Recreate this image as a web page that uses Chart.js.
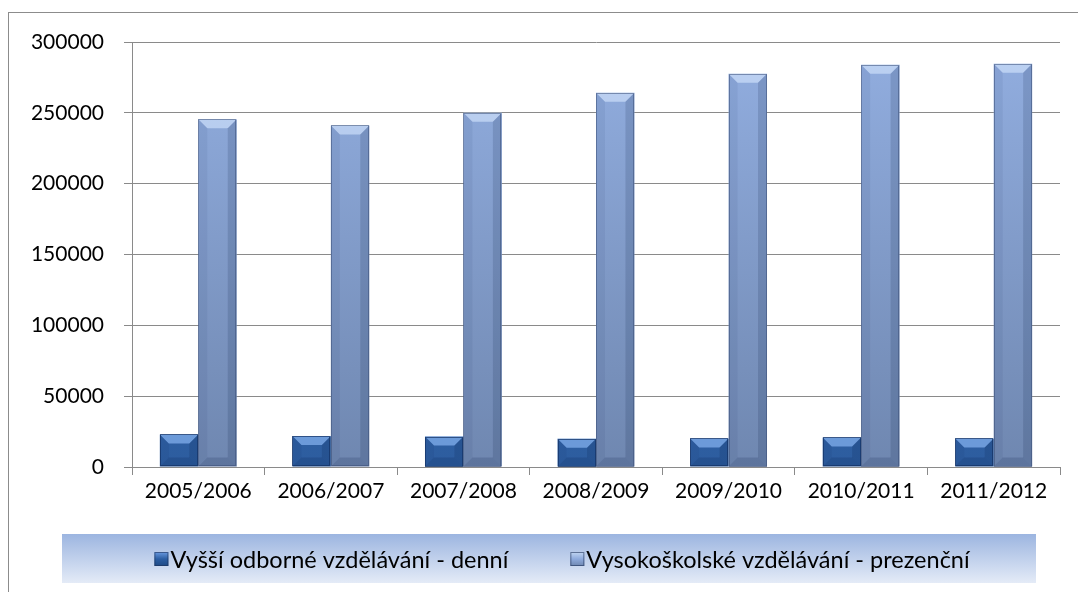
<!DOCTYPE html>
<html>
<head>
<meta charset="utf-8">
<script src="https://cdn.jsdelivr.net/npm/chart.js@4"></script>
<style>
  html, body { margin: 0; padding: 0; background: #fff; overflow: hidden; }
  #frame { position: absolute; left: 8px; top: 12px; width: 1100px; height: 620px; border: 1px solid #8c8c8c; box-sizing: border-box; }
  #c { position: absolute; left: 0; top: 0; }
</style>
</head>
<body>
<div id="frame"></div>
<canvas id="c" width="1078" height="592"></canvas>
<script>
// ---- data ----
const categories = ['2005/2006', '2006/2007', '2007/2008', '2008/2009', '2009/2010', '2010/2011', '2011/2012'];
const seriesNames = ['Vyšší odborné vzdělávání - denní', 'Vysokoškolské vzdělávání - prezenční'];
const vosDenni = [23000, 21800, 21500, 19900, 20200, 20900, 20200];
const vsPrezencni = [245400, 241100, 250100, 264200, 277600, 283900, 284600];
const yTicks = [0, 50000, 100000, 150000, 200000, 250000, 300000];

const FONT = 'Lato, "Open Sans", sans-serif';
const GRID = '#8a8a8a';

function vGrad(ctx, fallback, top, bottom) {
  const a = ctx.chart.chartArea;
  if (!a) return fallback;
  const g = ctx.chart.ctx.createLinearGradient(0, a.top, 0, a.bottom);
  g.addColorStop(0, top);
  g.addColorStop(1, bottom);
  return g;
}

const bevelPlugin = {
  id: 'bevel',
  afterDatasetsDraw(chart) {
    const c = chart.ctx;
    chart.data.datasets.forEach((ds, di) => {
      const meta = chart.getDatasetMeta(di);
      meta.data.forEach(el => {
        const l = el.x - el.width / 2, r = el.x + el.width / 2;
        const t = Math.min(el.y, el.base), bt = Math.max(el.y, el.base);
        const b = Math.min(9, (bt - t) / 2, el.width / 4);
        c.save();
        c.beginPath();
        c.moveTo(l, t); c.lineTo(r, t); c.lineTo(r - b, t + b); c.lineTo(l + b, t + b); c.closePath();
        c.fillStyle = di === 0 ? 'rgba(150,195,255,0.6)' : 'rgba(215,232,255,0.6)';
        c.fill();
        c.beginPath();
        c.moveTo(l, t); c.lineTo(l + b, t + b); c.lineTo(l + b, bt - b); c.lineTo(l, bt); c.closePath();
        c.fillStyle = 'rgba(0,20,60,0.06)';
        c.fill();
        c.beginPath();
        c.moveTo(r, t); c.lineTo(r - b, t + b); c.lineTo(r - b, bt - b); c.lineTo(r, bt); c.closePath();
        c.fillStyle = 'rgba(0,20,60,0.14)';
        c.fill();
        c.beginPath();
        c.moveTo(l, bt); c.lineTo(r, bt); c.lineTo(r - b, bt - b); c.lineTo(l + b, bt - b); c.closePath();
        c.fillStyle = 'rgba(0,20,60,0.16)';
        c.fill();
        c.strokeStyle = di === 0 ? 'rgba(20,50,100,0.7)' : 'rgba(60,80,120,0.55)';
        c.lineWidth = 1;
        c.strokeRect(Math.round(l) + 0.5, Math.round(t) + 0.5, Math.round(r - l) - 1, Math.round(bt - t) - 1);
        c.restore();
      });
    });
  }
};

const legendPlugin = {
  id: 'excelLegend',
  afterDraw(chart) {
    const c = chart.ctx;
    const bx = 62, by = 534, bw = 974, bh = 49;
    c.save();
    const g = c.createLinearGradient(0, by, 0, by + bh);
    g.addColorStop(0, '#9cb5e0');
    g.addColorStop(1, '#e4ebf7');
    c.fillStyle = g;
    c.fillRect(bx, by, bw, bh);

    const fs = 23.5;
    c.font = fs + 'px ' + FONT;
    const box = 14, tgap = 2, gap = 62;
    const widths = seriesNames.map(n => box + tgap + c.measureText(n).width);
    const total = widths[0] + gap + widths[1];
    let x = 562 - total / 2;
    const cy = 559;
    const markerCols = [['#6a9ae0', '#2c5ea3', '#1f4a85'], ['#c2d6f2', '#8eaadc', '#6f87b0']];
    seriesNames.forEach((n, i) => {
      const mg = c.createLinearGradient(0, cy - box / 2, 0, cy + box / 2);
      mg.addColorStop(0, markerCols[i][0]);
      mg.addColorStop(0.5, markerCols[i][1]);
      mg.addColorStop(1, markerCols[i][2]);
      c.fillStyle = mg;
      c.fillRect(x, cy - box / 2, box, box);
      c.strokeStyle = 'rgba(30,50,90,0.6)';
      c.lineWidth = 1;
      c.strokeRect(x + 0.5, cy - box / 2 + 0.5, box - 1, box - 1);
      c.fillStyle = '#000';
      c.textBaseline = 'middle';
      c.textAlign = 'left';
      c.fillText(n, x + box + tgap, cy + 1);
      x += widths[i] + gap;
    });
    c.restore();
  }
};

new Chart(document.getElementById('c'), {
  type: 'bar',
  data: {
    labels: categories,
    datasets: [
      {
        label: seriesNames[0],
        data: vosDenni,
        backgroundColor: ctx => vGrad(ctx, '#3468b0', '#3a70bb', '#2d5d9f'),
        borderWidth: 0
      },
      {
        label: seriesNames[1],
        data: vsPrezencni,
        backgroundColor: ctx => vGrad(ctx, '#8aa6d6', '#92aee0', '#6f87b0'),
        borderWidth: 0
      }
    ]
  },
  options: {
    responsive: false,
    devicePixelRatio: 1,
    animation: false,
    categoryPercentage: 0.58,
    barPercentage: 1.0,
    layout: { padding: { top: 42, right: 18, left: 0, bottom: 0 } },
    plugins: {
      legend: { display: false },
      tooltip: { enabled: false },
      title: { display: false }
    },
    scales: {
      x: {
        grid: { offset: true, drawOnChartArea: false, drawTicks: true, tickLength: 8, color: GRID, lineWidth: 1 },
        border: { display: true, color: GRID, width: 1 },
        ticks: { font: { family: FONT, size: 21 }, color: '#000', padding: 4, maxRotation: 0, autoSkip: false },
        afterFit: s => { s.height = 125; }
      },
      y: {
        min: 0,
        max: 300000,
        afterBuildTicks: s => { s.ticks = yTicks.map(v => ({ value: v })); },
        grid: { color: GRID, lineWidth: 1, tickLength: 8, drawTicks: true },
        border: { display: true, color: GRID, width: 1 },
        ticks: { font: { family: FONT, size: 21 }, color: '#000', padding: 20, callback: v => String(v) },
        afterFit: s => { s.width = 132; }
      }
    }
  },
  plugins: [bevelPlugin, legendPlugin]
});
</script>
</body>
</html>
